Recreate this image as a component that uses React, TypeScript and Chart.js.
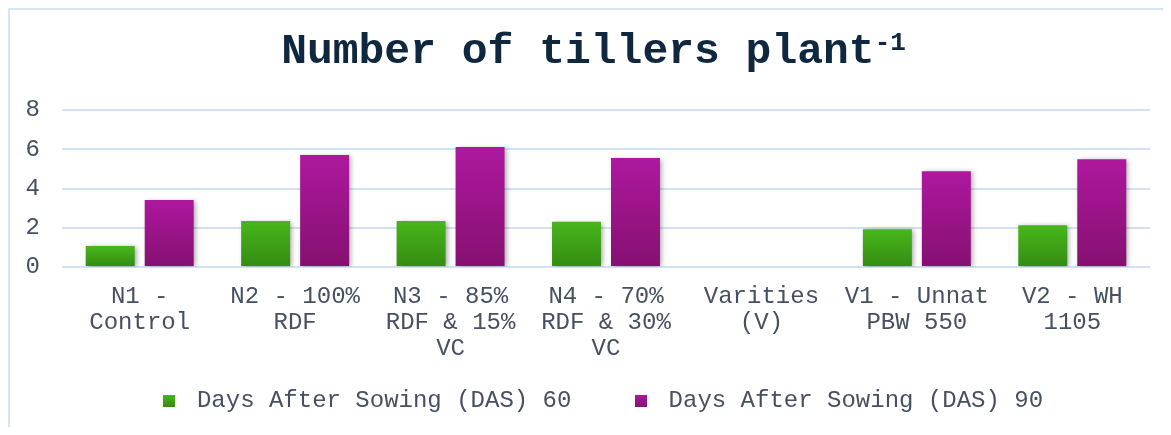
import React, { useEffect, useRef } from "react";
import { Chart, registerables } from "chart.js";

Chart.register(...registerables);

const categories: string[][] = [
  ["N1 -", "Control"],
  ["N2 - 100%", "RDF"],
  ["N3 - 85%", "RDF & 15%", "VC"],
  ["N4 - 70%", "RDF & 30%", "VC"],
  ["Varities", "(V)"],
  ["V1 - Unnat", "PBW 550"],
  ["V2 - WH", "1105"],
];
const das60: (number | null)[] = [1.07, 2.35, 2.35, 2.3, null, 1.92, 2.13];
const das90: (number | null)[] = [3.42, 5.71, 6.12, 5.56, null, 4.88, 5.49];
const seriesNames = ["Days After Sowing (DAS) 60", "Days After Sowing (DAS) 90"];
const yMin = 0;
const yMax = 8;
const yStep = 2;
const titleMain = "Number of tillers plant";
const titleSup = "-1";

const FONT = '"Liberation Mono", "Courier New", monospace';
const TEXT = "#465060";
const GRID = "#d3e2f3";
const GREEN = ["#47b71b", "#348b12"];
const PURPLE = ["#ae189f", "#851070"];

function makeLegendImg(cols: string[]) {
  const c = document.createElement("canvas");
  c.width = 12;
  c.height = 12;
  const x = c.getContext("2d")!;
  const g = x.createLinearGradient(0, 0, 0, 12);
  g.addColorStop(0, cols[0]);
  g.addColorStop(1, cols[1]);
  x.fillStyle = g;
  x.fillRect(0, 0, 12, 12);
  return c;
}

function barGradient(cols: string[]) {
  return (ctx: any) => {
    const chart = ctx.chart;
    const y = chart.scales && chart.scales.y;
    if (!y || ctx.type !== "data" || ctx.raw == null) return cols[0];
    const top = y.getPixelForValue(ctx.raw);
    const bot = y.getPixelForValue(0);
    if (!isFinite(top) || !isFinite(bot) || top === bot) return cols[0];
    const g = chart.ctx.createLinearGradient(0, top, 0, bot);
    g.addColorStop(0, cols[0]);
    g.addColorStop(1, cols[1]);
    return g;
  };
}

const shadowPlugin = {
  id: "barShadow",
  beforeDatasetsDraw(chart: any) {
    const c = chart.ctx;
    c.save();
    c.shadowColor = "rgba(0,0,0,0.35)";
    c.shadowBlur = 5;
    c.shadowOffsetX = 2;
    c.shadowOffsetY = 1;
  },
  afterDatasetsDraw(chart: any) {
    chart.ctx.restore();
  },
};

const legendShiftPlugin = {
  id: "legendShift",
  afterLayout(chart: any) {
    const l = chart.legend;
    if (l) {
      l.left += 13;
      l.right += 13;
    }
  },
};

const titlePlugin = {
  id: "supTitle",
  afterDraw(chart: any) {
    const c = chart.ctx;
    c.save();
    c.fillStyle = "#10283f";
    c.textBaseline = "alphabetic";
    c.textAlign = "left";
    c.font = `bold 43px ${FONT}`;
    const wMain = c.measureText(titleMain).width;
    c.font = `bold 26px ${FONT}`;
    const wSup = c.measureText(titleSup).width;
    const cx = chart.width / 2 + 7;
    const x0 = cx - (wMain + wSup) / 2;
    c.font = `bold 43px ${FONT}`;
    c.fillText(titleMain, x0, 53);
    c.font = `bold 26px ${FONT}`;
    c.fillText(titleSup, x0 + wMain, 40);
    c.restore();
  },
};

export default function App() {
  const ref = useRef<HTMLCanvasElement | null>(null);

  useEffect(() => {
    document.body.style.overflow = "hidden";
    const legendImgs = [makeLegendImg(GREEN), makeLegendImg(PURPLE)];
    const chart = new Chart(ref.current!, {
      type: "bar",
      data: {
        labels: categories,
        datasets: [
          {
            label: seriesNames[0] + "   ",
            data: das60,
            backgroundColor: barGradient(GREEN),
            borderWidth: 0,
          },
          {
            label: seriesNames[1],
            data: das90,
            backgroundColor: barGradient(PURPLE),
            borderWidth: 0,
          },
        ],
      },
      options: {
        responsive: false,
        animation: false,
        events: [],
        layout: { padding: { top: 100, left: 10, right: 13, bottom: 4 } },
        datasets: {
          bar: { categoryPercentage: 0.759, barPercentage: 0.8305 },
        },
        scales: {
          x: {
            grid: { display: false },
            border: { display: false },
            ticks: {
              padding: 9,
              color: TEXT,
              font: { family: FONT, size: 24, lineHeight: 1.085 },
              maxRotation: 0,
              autoSkip: false,
            },
            afterFit(scale: any) {
              scale.height = 112;
            },
          },
          y: {
            min: yMin,
            max: yMax,
            grid: { color: GRID, lineWidth: 2, drawTicks: false },
            border: { display: false },
            ticks: {
              stepSize: yStep,
              padding: 22,
              color: TEXT,
              font: { family: FONT, size: 24 },
            },
            afterFit(scale: any) {
              scale.width = 42;
            },
          },
        },
        plugins: {
          title: { display: false },
          tooltip: { enabled: false },
          legend: {
            position: "bottom",
            labels: {
              usePointStyle: true,
              pointStyleWidth: 32,
              boxHeight: 12,
              padding: 10,
              color: TEXT,
              font: { family: FONT, size: 24 },
              generateLabels(ch: any) {
                const items = (Chart.defaults.plugins.legend.labels as any).generateLabels(ch);
                items.forEach((it: any, i: number) => {
                  it.pointStyle = legendImgs[i];
                });
                return items;
              },
            },
          },
        },
      } as any,
      plugins: [shadowPlugin, titlePlugin, legendShiftPlugin],
    });
    return () => chart.destroy();
  }, []);

  return (
    <div
      style={{
        width: 1155,
        height: 419,
        borderLeft: "2px solid #d6e4f4",
        borderTop: "2px solid #d6e4f4",
        boxSizing: "border-box",
        background: "#ffffff",
      }}
    >
      <canvas ref={ref} width={1153} height={417} style={{ display: "block" }} />
    </div>
  );
}
